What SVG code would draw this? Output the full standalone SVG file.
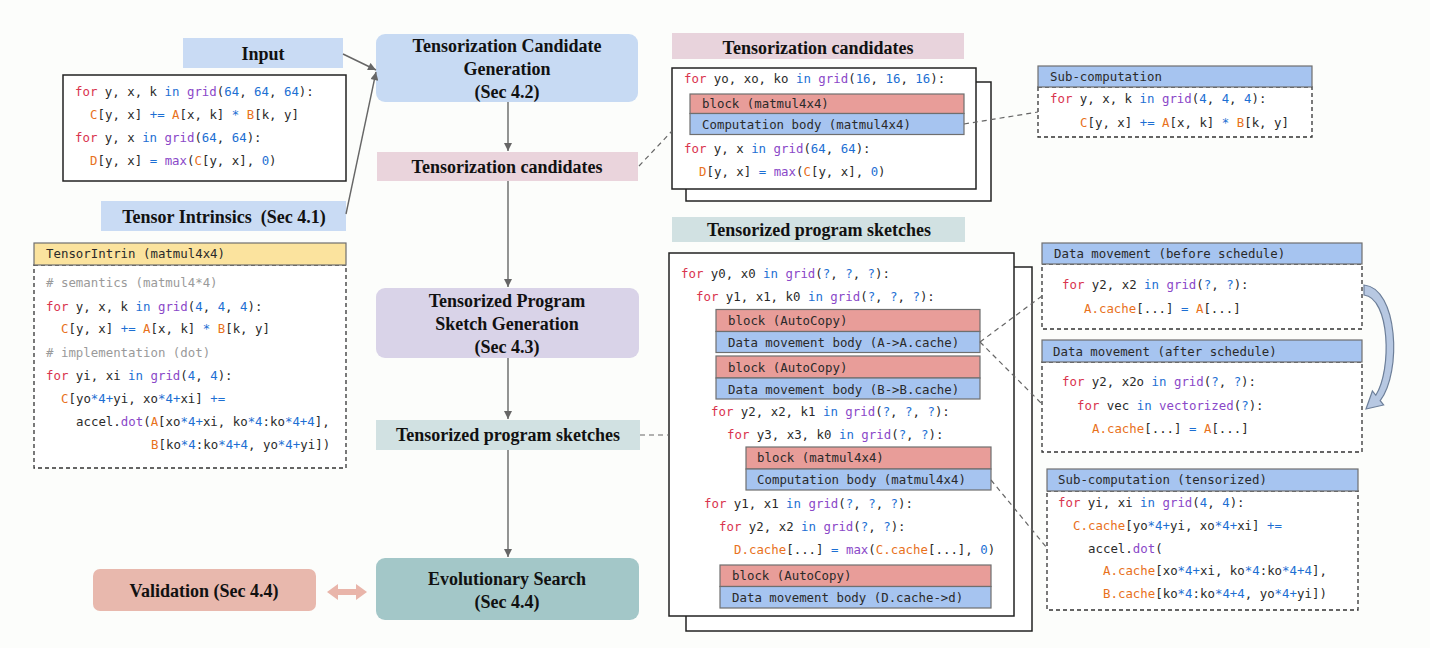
<svg xmlns="http://www.w3.org/2000/svg" width="1430" height="648" viewBox="0 0 1430 648">
<defs>
<marker id="ah" viewBox="0 0 10 10" refX="10" refY="5" markerWidth="9" markerHeight="8" markerUnits="userSpaceOnUse" orient="auto"><path d="M0,0 L10,5 L0,10 z" fill="#666"/></marker>
<style>
.t{font-family:"Liberation Serif","Times New Roman",serif;font-weight:bold;font-size:18px;fill:#111;text-anchor:middle}
.m{font-family:"DejaVu Sans Mono",monospace;font-size:12.4px;fill:#2a2a2a;white-space:pre}
.k{fill:#d9344e}.kw{fill:#1d6fd3}.f{fill:#8a48c8}.n{fill:#1d6fd3}.v{fill:#e8711c}.o{fill:#1d6fd3}.c{fill:#9a9a9a}
.solid{fill:#fff;stroke:#222;stroke-width:1.5}
.dash{fill:#fff;stroke:#333;stroke-width:1.3;stroke-dasharray:4,3}
.hb{fill:#a6c4f0;stroke:#6f6f6f;stroke-width:1.2}
.hy{fill:#fbe39e;stroke:#6f6f6f;stroke-width:1.2}
.rb{fill:#e89d99;stroke:#6f6f6f;stroke-width:1.2}
.bb{fill:#a6c4f0;stroke:#6f6f6f;stroke-width:1.2}
.ln{stroke:#666;stroke-width:1.4;fill:none}
.dl{stroke:#666;stroke-width:1.2;fill:none;stroke-dasharray:5,4}
</style>
</defs>
<rect width="1430" height="648" fill="#fcfdfb"/>

<g id="input-label"><rect x="183" y="38" width="160" height="30" fill="#c9dbf4"/><text class="t" x="263" y="60">Input</text></g>
<g id="input-code">
<rect x="63" y="75" width="283" height="106" class="solid"/>
<text class="m" font-size="12.2px" x="75" y="96"><tspan class="k">for</tspan> y, x, k <tspan class="kw">in</tspan> <tspan class="f">grid</tspan>(<tspan class="n">64</tspan>, <tspan class="n">64</tspan>, <tspan class="n">64</tspan>):</text>
<text class="m" font-size="12.2px" x="90" y="119"><tspan class="v">C</tspan>[y, x] <tspan class="o">+=</tspan> <tspan class="v">A</tspan>[x, k] <tspan class="o">*</tspan> <tspan class="v">B</tspan>[k, y]</text>
<text class="m" font-size="12.2px" x="75" y="142"><tspan class="k">for</tspan> y, x <tspan class="kw">in</tspan> <tspan class="f">grid</tspan>(<tspan class="n">64</tspan>, <tspan class="n">64</tspan>):</text>
<text class="m" font-size="12.2px" x="90" y="165"><tspan class="v">D</tspan>[y, x] <tspan class="o">=</tspan> <tspan class="f">max</tspan>(<tspan class="v">C</tspan>[y, x], <tspan class="n">0</tspan>)</text>
</g>
<g id="intrinsics-label"><rect x="101" y="201" width="245" height="30" fill="#c9dbf4"/><text class="t" x="224" y="223" style="white-space:pre">Tensor Intrinsics  (Sec 4.1)</text></g>
<g id="tensorintrin">
<rect x="34" y="265" width="312" height="203" class="dash"/>
<rect x="34" y="243" width="312" height="22" class="hy"/>
<text class="m" x="46" y="258">TensorIntrin (matmul4x4)</text>
<text class="m" x="46" y="287"><tspan class="c"># semantics (matmul4*4)</tspan></text>
<text class="m" x="46" y="311"><tspan class="k">for</tspan> y, x, k <tspan class="kw">in</tspan> <tspan class="f">grid</tspan>(<tspan class="n">4</tspan>, <tspan class="n">4</tspan>, <tspan class="n">4</tspan>):</text>
<text class="m" font-size="10.9px" x="61" y="333"><tspan class="v">C</tspan>[y, x] <tspan class="o">+=</tspan> <tspan class="v">A</tspan>[x, k] <tspan class="o">*</tspan> <tspan class="v">B</tspan>[k, y]</text>
<text class="m" x="46" y="357"><tspan class="c"># implementation (dot)</tspan></text>
<text class="m" x="46" y="380"><tspan class="k">for</tspan> yi, xi <tspan class="kw">in</tspan> <tspan class="f">grid</tspan>(<tspan class="n">4</tspan>, <tspan class="n">4</tspan>):</text>
<text class="m" x="61" y="403"><tspan class="v">C</tspan>[yo<tspan class="o">*4+</tspan>yi, xo<tspan class="o">*4+</tspan>xi] <tspan class="o">+=</tspan></text>
<text class="m" x="76" y="426">accel.<tspan class="f">dot</tspan>(<tspan class="v">A</tspan>[xo<tspan class="o">*4+</tspan>xi, ko<tspan class="o">*4</tspan>:ko<tspan class="o">*4+4</tspan>],</text>
<text class="m" x="151" y="449"><tspan class="v">B</tspan>[ko<tspan class="o">*4</tspan>:ko<tspan class="o">*4+4</tspan>, yo<tspan class="o">*4+</tspan>yi])</text>
</g>

<g id="cand-gen"><rect x="376" y="34" width="262" height="68" rx="9" fill="#c7daf3"/>
<text class="t" x="507" y="52">Tensorization Candidate</text><text class="t" x="507" y="75">Generation</text><text class="t" x="507" y="98">(Sec 4.2)</text></g>
<g id="cand-label"><rect x="377" y="152" width="261" height="29" fill="#ead4dc"/><text class="t" x="507" y="173">Tensorization candidates</text></g>
<g id="sketch-gen"><rect x="376" y="288" width="263" height="70" rx="9" fill="#d9d3e8"/>
<text class="t" x="507" y="307">Tensorized Program</text><text class="t" x="507" y="330">Sketch Generation</text><text class="t" x="507" y="353">(Sec 4.3)</text></g>
<g id="sketch-label"><rect x="376" y="420" width="264" height="30" fill="#d1e1e2"/><text class="t" x="508" y="441">Tensorized program sketches</text></g>
<g id="evo"><rect x="376" y="558" width="263" height="62" rx="9" fill="#a3c7c8"/>
<text class="t" x="507" y="585">Evolutionary Search</text><text class="t" x="507" y="608">(Sec 4.4)</text></g>
<g id="validation"><rect x="93" y="569" width="223" height="42" rx="7" fill="#e8b8ad"/><text class="t" x="204" y="597">Validation (Sec 4.4)</text></g>

<g id="cand-title"><rect x="672" y="33" width="292" height="26" fill="#e8d3dc"/><text class="t" x="818" y="54">Tensorization candidates</text></g>
<g id="cand-box">
<rect x="686" y="82" width="305" height="119" class="solid"/>
<rect x="672" y="68" width="304" height="121" class="solid"/>
<text class="m" x="684" y="83"><tspan class="k">for</tspan> yo, xo, ko <tspan class="kw">in</tspan> <tspan class="f">grid</tspan>(<tspan class="n">16</tspan>, <tspan class="n">16</tspan>, <tspan class="n">16</tspan>):</text>
<rect x="690" y="94" width="274" height="19.5" class="rb"/>
<rect x="690" y="113.5" width="274" height="21" class="bb"/>
<text class="m" x="702" y="108">block (matmul4x4)</text>
<text class="m" x="702" y="129">Computation body (matmul4x4)</text>
<text class="m" x="684" y="153"><tspan class="k">for</tspan> y, x <tspan class="kw">in</tspan> <tspan class="f">grid</tspan>(<tspan class="n">64</tspan>, <tspan class="n">64</tspan>):</text>
<text class="m" x="699" y="176"><tspan class="v">D</tspan>[y, x] <tspan class="o">=</tspan> <tspan class="f">max</tspan>(<tspan class="v">C</tspan>[y, x], <tspan class="n">0</tspan>)</text>
</g>
<g id="subcomp">
<rect x="1038" y="87" width="274" height="50" class="dash"/>
<rect x="1038" y="66" width="274" height="21" class="hb"/>
<text class="m" x="1050" y="81">Sub-computation</text>
<text class="m" x="1050" y="103"><tspan class="k">for</tspan> y, x, k <tspan class="kw">in</tspan> <tspan class="f">grid</tspan>(<tspan class="n">4</tspan>, <tspan class="n">4</tspan>, <tspan class="n">4</tspan>):</text>
<text class="m" x="1080" y="127"><tspan class="v">C</tspan>[y, x] <tspan class="o">+=</tspan> <tspan class="v">A</tspan>[x, k] <tspan class="o">*</tspan> <tspan class="v">B</tspan>[k, y]</text>
</g>

<g id="sketch-title"><rect x="672" y="217" width="293" height="25" fill="#d1e1e2"/><text class="t" x="819" y="236">Tensorized program sketches</text></g>
<g id="sketch-box">
<rect x="686" y="267" width="346" height="364" class="solid"/>
<rect x="669" y="253" width="345" height="363" class="solid"/>
<text class="m" x="681" y="278"><tspan class="k">for</tspan> y0, x0 <tspan class="kw">in</tspan> <tspan class="f">grid</tspan>(<tspan class="n">?</tspan>, <tspan class="n">?</tspan>, <tspan class="n">?</tspan>):</text>
<text class="m" x="696" y="301"><tspan class="k">for</tspan> y1, x1, k0 <tspan class="kw">in</tspan> <tspan class="f">grid</tspan>(<tspan class="n">?</tspan>, <tspan class="n">?</tspan>, <tspan class="n">?</tspan>):</text>
<rect x="716" y="309.5" width="264" height="22" class="rb"/>
<rect x="716" y="331.5" width="264" height="21" class="bb"/>
<text class="m" x="728" y="325">block (AutoCopy)</text>
<text class="m" x="728" y="347">Data movement body (A-&gt;A.cache)</text>
<rect x="716" y="356" width="264" height="22" class="rb"/>
<rect x="716" y="378" width="264" height="21" class="bb"/>
<text class="m" x="728" y="372">block (AutoCopy)</text>
<text class="m" x="728" y="394">Data movement body (B-&gt;B.cache)</text>
<text class="m" x="711" y="416"><tspan class="k">for</tspan> y2, x2, k1 <tspan class="kw">in</tspan> <tspan class="f">grid</tspan>(<tspan class="n">?</tspan>, <tspan class="n">?</tspan>, <tspan class="n">?</tspan>):</text>
<text class="m" x="727" y="439"><tspan class="k">for</tspan> y3, x3, k0 <tspan class="kw">in</tspan> <tspan class="f">grid</tspan>(<tspan class="n">?</tspan>, <tspan class="n">?</tspan>):</text>
<rect x="746" y="447" width="245" height="22" class="rb"/>
<rect x="746" y="469" width="245" height="21" class="bb"/>
<text class="m" x="757" y="462">block (matmul4x4)</text>
<text class="m" x="757" y="484">Computation body (matmul4x4)</text>
<text class="m" x="704" y="508"><tspan class="k">for</tspan> y1, x1 <tspan class="kw">in</tspan> <tspan class="f">grid</tspan>(<tspan class="n">?</tspan>, <tspan class="n">?</tspan>, <tspan class="n">?</tspan>):</text>
<text class="m" x="719" y="531"><tspan class="k">for</tspan> y2, x2 <tspan class="kw">in</tspan> <tspan class="f">grid</tspan>(<tspan class="n">?</tspan>, <tspan class="n">?</tspan>):</text>
<text class="m" x="734" y="554"><tspan class="v">D.cache</tspan>[...] <tspan class="o">=</tspan> <tspan class="f">max</tspan>(<tspan class="v">C.cache</tspan>[...], <tspan class="n">0</tspan>)</text>
<rect x="720" y="565" width="271" height="21.5" class="rb"/>
<rect x="720" y="586.5" width="271" height="21.5" class="bb"/>
<text class="m" x="732" y="580">block (AutoCopy)</text>
<text class="m" x="732" y="602">Data movement body (D.cache-&gt;d)</text>
</g>

<g id="dm-before">
<rect x="1042" y="264" width="320" height="65" class="dash"/>
<rect x="1042" y="243" width="320" height="21" class="hb"/>
<text class="m" x="1054" y="258">Data movement (before schedule)</text>
<text class="m" x="1062" y="289"><tspan class="k">for</tspan> y2, x2 <tspan class="kw">in</tspan> <tspan class="f">grid</tspan>(<tspan class="n">?</tspan>, <tspan class="n">?</tspan>):</text>
<text class="m" x="1084" y="313"><tspan class="v">A.cache</tspan>[...] <tspan class="o">=</tspan> <tspan class="v">A</tspan>[...]</text>
</g>
<g id="dm-after">
<rect x="1042" y="362" width="320" height="90" class="dash"/>
<rect x="1042" y="340" width="320" height="22" class="hb"/>
<text class="m" x="1053" y="356">Data movement (after schedule)</text>
<text class="m" x="1062" y="386"><tspan class="k">for</tspan> y2, x2o <tspan class="kw">in</tspan> <tspan class="f">grid</tspan>(<tspan class="n">?</tspan>, <tspan class="n">?</tspan>):</text>
<text class="m" x="1077" y="410"><tspan class="k">for</tspan> vec <tspan class="kw">in</tspan> <tspan class="f">vectorized</tspan>(<tspan class="n">?</tspan>):</text>
<text class="m" x="1092" y="433"><tspan class="v">A.cache</tspan>[...] <tspan class="o">=</tspan> <tspan class="v">A</tspan>[...]</text>
</g>
<g id="subcomp-tensorized">
<rect x="1047" y="491" width="311" height="119" class="dash"/>
<rect x="1047" y="469" width="311" height="22" class="hb"/>
<text class="m" x="1058" y="484">Sub-computation (tensorized)</text>
<text class="m" x="1058" y="507"><tspan class="k">for</tspan> yi, xi <tspan class="kw">in</tspan> <tspan class="f">grid</tspan>(<tspan class="n">4</tspan>, <tspan class="n">4</tspan>):</text>
<text class="m" x="1073" y="530"><tspan class="v">C.cache</tspan>[yo<tspan class="o">*4+</tspan>yi, xo<tspan class="o">*4+</tspan>xi] <tspan class="o">+=</tspan></text>
<text class="m" x="1088" y="553">accel.<tspan class="f">dot</tspan>(</text>
<text class="m" x="1103" y="575"><tspan class="v">A.cache</tspan>[xo<tspan class="o">*4+</tspan>xi, ko<tspan class="o">*4</tspan>:ko<tspan class="o">*4+4</tspan>],</text>
<text class="m" x="1103" y="598"><tspan class="v">B.cache</tspan>[ko<tspan class="o">*4</tspan>:ko<tspan class="o">*4+4</tspan>, yo<tspan class="o">*4+</tspan>yi])</text>
</g>

<g id="connectors">
<line class="ln" x1="343" y1="54" x2="376" y2="70" marker-end="url(#ah)"/>
<line class="ln" x1="346" y1="214" x2="376" y2="72" marker-end="url(#ah)"/>
<line class="ln" x1="508" y1="102" x2="508" y2="151" marker-end="url(#ah)"/>
<line class="ln" x1="508" y1="181" x2="508" y2="287" marker-end="url(#ah)"/>
<line class="ln" x1="508" y1="358" x2="508" y2="419" marker-end="url(#ah)"/>
<line class="ln" x1="508" y1="450" x2="508" y2="557" marker-end="url(#ah)"/>
<line class="dl" x1="639" y1="166" x2="672" y2="131"/>
<line class="dl" x1="640" y1="435" x2="669" y2="435"/>
<line class="dl" x1="964" y1="124" x2="1038" y2="112"/>
<line class="dl" x1="980" y1="342" x2="1042" y2="296"/>
<line class="dl" x1="980" y1="342" x2="1042" y2="404"/>
<line class="dl" x1="991" y1="480" x2="1047" y2="548"/>
<polygon points="327,592 338,584 338,589 356,589 356,584 367,592 356,600 356,595 338,595 338,600" fill="#e9b5aa"/>
<path d="M1364,285 C1398,288 1402,372 1380.2,400.7 L1383.6,405 L1366,409 L1372.4,391 L1375.8,395.3 C1392,370 1390,298 1364,295 Z" fill="#b7c8e2" stroke="#6d7f99" stroke-width="1.2"/>
</g>
</svg>
